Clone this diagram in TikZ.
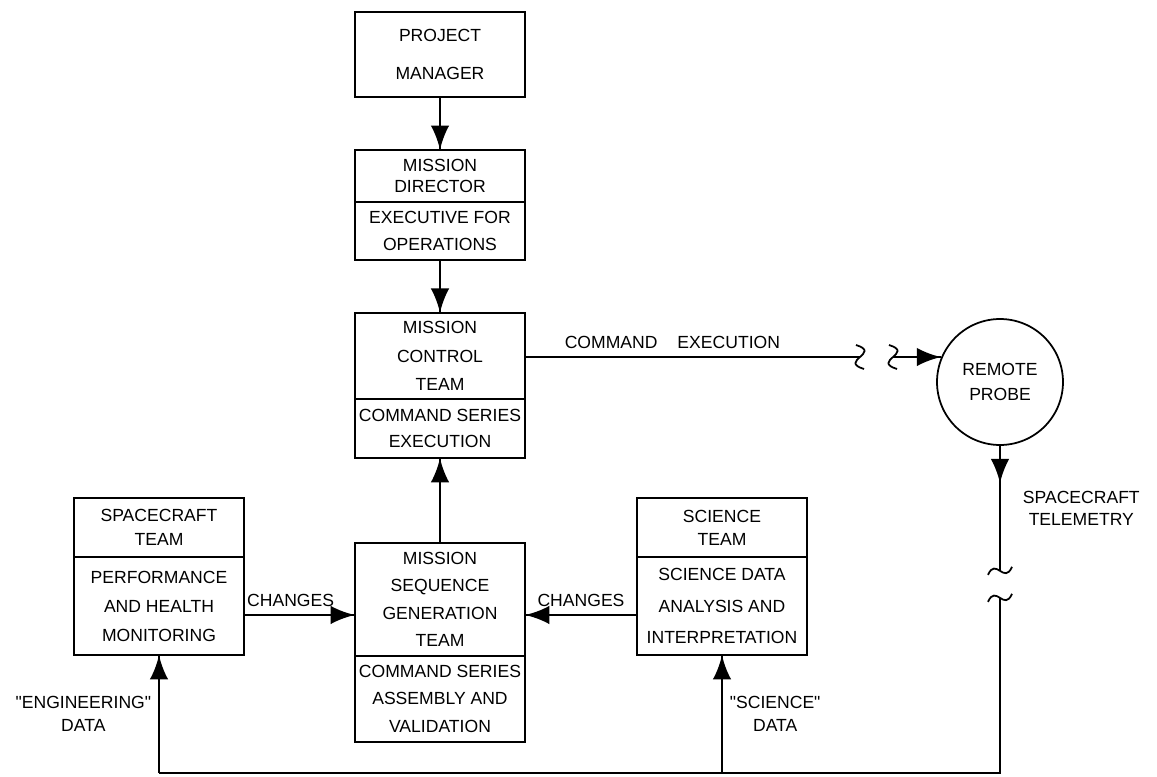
\documentclass[tikz,border=0pt]{standalone}
\usepackage{fontspec}
\setmainfont{Liberation Sans}[Ligatures=TeXOff]
\usetikzlibrary{calc,positioning}
\usetikzlibrary{shapes,arrows,decorations.markings}
\tikzstyle{team}=[rectangle, draw=black, line width=1pt, minimum width=3.4cm, text centered, align=center, outer sep=0pt, inner sep=1pt, font=\fontsize{10pt}{15pt}\selectfont]
\tikzstyle{probe}=[circle, draw=black, line width=1pt, minimum size=2.52cm, align=center, font=\fontsize{10pt}{14pt}\selectfont]
\tikzstyle{arrow} = [decoration={markings,mark=at position 1 with
	{\arrow[scale=2.4,>=latex]{>}}},postaction={decorate}]
\tikzstyle{midarrow} = [decoration={markings,mark=at position 0.3 with
	{\arrow[scale=2.4,>=latex]{>}}},postaction={decorate}]
\tikzset{
	lsp/.style={
		font=\fontsize{10pt}{#1}\selectfont
	},
	descr/.style={
		font=\fontsize{10pt}{13pt}\selectfont,
		align=center,
		inner sep=4pt
	}
}

\begin{document}
\begin{tikzpicture}[x=0.02cm, y=-0.02cm, line width=1pt]
	\useasboundingbox (0,0) rectangle (1157,777);
	
	\node(PM)[team, minimum height=1.7cm, lsp=22pt] at (440,54.5) {PROJECT\\MANAGER};
	
	\node(MDname)[team, minimum height=1.04cm, lsp=12pt, below=1.06cm of PM]{MISSION\\DIRECTOR};
	\node(MDrole)[team, minimum height=1.16cm, lsp=15pt, below=0pt of MDname]{EXECUTIVE FOR\\OPERATIONS};
	
	\node(MCname)[team, minimum height=1.72cm, lsp=16pt, below=1.06cm of MDrole]{MISSION\\CONTROL\\TEAM};
	\node(MCrole)[team, minimum height=1.18cm, lsp=15pt, below=0pt of MCname]{COMMAND SERIES\\EXECUTION};
	
	\node(MSname)[team, minimum height=2.26cm, lsp=15.5pt, below=1.7cm of MCrole]{MISSION\\SEQUENCE\\GENERATION\\TEAM};
	\node(MSrole)[team, minimum height=1.72cm, lsp=15.5pt, below=0pt of MSname]{COMMAND SERIES\\ASSEMBLY AND\\VALIDATION};
	
	\node(SCname)[team, minimum height=1.18cm, lsp=14pt] at (159,527.5) {SPACECRAFT\\TEAM};
	\node(SCrole)[team, minimum height=1.96cm, lsp=16.5pt, below=0pt of SCname]{PERFORMANCE\\AND HEALTH\\MONITORING};
	
	\node(STname)[team, minimum height=1.18cm, lsp=13pt] at (722,527.5) {SCIENCE\\TEAM};
	\node(STrole)[team, minimum height=1.96cm, lsp=18pt, below=0pt of STname]{SCIENCE DATA\\ANALYSIS AND\\INTERPRETATION};
	
	\node(probe)[probe] at (1000,382) {REMOTE\\PROBE};
	
	
	\draw [arrow] (PM) -- (MDname);
	\draw [arrow] (MDrole) -- (MCname);
	\draw [arrow] (MSname) -- (MCrole);
	
	\draw [arrow] ([yshift=-0.18cm]SCrole.east) -- node[descr, above, pos=0.42]{CHANGES} ([yshift=-0.18cm]SCrole.east -| MSname.west);
	\draw [arrow] ([yshift=-0.18cm]STrole.west) -- node[descr, above, pos=0.5]{CHANGES} ([yshift=-0.18cm]STrole.west -| MSname.east);
	
	% command link with break marks
	\coordinate (cmd1) at (860,357);
	\coordinate (cmd2) at (893,357);
	\draw (MCname.east |- cmd1) -- node[descr, above, pos=0.44]{COMMAND\hspace{0.4cm}EXECUTION} (cmd1);
	\draw ($(cmd1)+(-4,-12)$) .. controls +(26,8) and +(-26,-8) .. ($(cmd1)+(4,12)$);
	\draw ($(cmd2)+(-4,-12)$) .. controls +(26,8) and +(-26,-8) .. ($(cmd2)+(4,12)$);
	\draw [arrow] (cmd2) -- (probe.157);
	
	% telemetry link with break marks
	\coordinate (tel1) at ($(probe.south)+(0,125)$);
	\coordinate (tel2) at ($(probe.south)+(0,152)$);
	\coordinate (base) at (0,773);
	\draw [midarrow] (probe.south) -- node[descr, right=0.3cm, pos=0.5]{SPACECRAFT\\TELEMETRY} (tel1);
	\draw ($(tel1)+(-12,4)$) .. controls +(8,-18) and +(-8,18) .. ($(tel1)+(12,-4)$);
	\draw ($(tel2)+(-12,4)$) .. controls +(8,-18) and +(-8,18) .. ($(tel2)+(12,-4)$);
	\draw (tel2) -- (tel2 |- base) -- (SCrole.south |- base);
	
	\draw [arrow] (SCrole.south |- base) -- node[descr, left, pos=0.5]{"ENGINEERING"\\DATA} (SCrole.south);
	\draw [arrow] (STrole.south |- base) -- node[descr, right, pos=0.5]{"SCIENCE"\\DATA} (STrole.south);
	
\end{tikzpicture}
\end{document}
